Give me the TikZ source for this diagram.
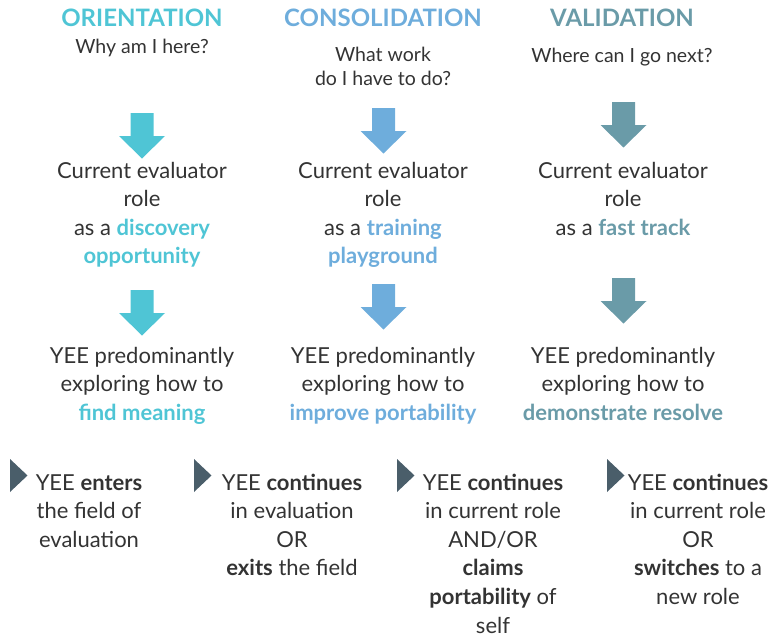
\documentclass[tikz,border=0pt]{standalone}
\usepackage{fontspec}
\setmainfont{Lato}
\definecolor{orient}{HTML}{4FC5D5}
\definecolor{consol}{HTML}{6EADDC}
\definecolor{valid}{HTML}{6A9BA8}
\definecolor{tri}{HTML}{4A5E6A}
\definecolor{txt}{HTML}{333333}
\newcommand\blockarrow[3]{%
  \fill[#3] ({#1-11.5},#2) -- ({#1+11.5},#2) -- ({#1+11.5},{#2+23}) -- ({#1+23},{#2+23})
    -- (#1,{#2+45.5}) -- ({#1-23},{#2+23}) -- ({#1-11.5},{#2+23}) -- cycle;}
\newcommand\marker[1]{%
  \fill[tri] (#1,459) -- ({#1+17.5},475.5) -- (#1,492) -- cycle;}
\begin{document}
\begin{tikzpicture}[x=1pt,y=-1pt,
  every node/.style={inner sep=0pt, outer sep=0pt, text=txt},
  headtext/.style={anchor=base, font=\bfseries\fontsize{24}{28}\selectfont},
  subtext/.style={anchor=base, align=center, font=\fontsize{19.5}{24}\selectfont},
  bodytext/.style={anchor=base, align=center, font=\fontsize{22}{28.6}\selectfont},
]
\useasboundingbox (0,0) rectangle (771,637);
% headers (anchor base = baseline of last line)
\node[headtext, text=orient] (h1) at (142,27) {ORIENTATION};
\node[headtext, text=consol] (h2) at (383,27) {CONSOLIDATION};
\node[headtext, text=valid] (h3) at (622,27) {VALIDATION};
\node[subtext] (s1) at (142,53) {Why am I here?};
\node[subtext] (s2) at (383,85) {What work\\do I have to do?};
\node[subtext] (s3) at (622,62) {Where can I go next?};
% arrows row 1
\blockarrow{142}{113}{orient}
\blockarrow{383.5}{108}{consol}
\blockarrow{623.5}{102}{valid}
% role blocks
\node[bodytext] (r1) at (142,263.8) {Current evaluator\\role\\as a \textcolor{orient}{\bfseries discovery}\\\textcolor{orient}{\bfseries opportunity}};
\node[bodytext] (r2) at (383,263.8) {Current evaluator\\role\\as a \textcolor{consol}{\bfseries training}\\\textcolor{consol}{\bfseries playground}};
\node[bodytext] (r3) at (623,235.2) {Current evaluator\\role\\as a \textcolor{valid}{\bfseries fast track}};
% arrows row 2
\blockarrow{142}{290}{orient}
\blockarrow{383.5}{284}{consol}
\blockarrow{623.5}{278}{valid}
% explore blocks
\node[bodytext] (e1) at (142,420.2) {YEE predominantly\\exploring how to\\\textcolor{orient}{\bfseries find meaning}};
\node[bodytext] (e2) at (383,420.2) {YEE predominantly\\exploring how to\\\textcolor{consol}{\bfseries improve portability}};
\node[bodytext] (e3) at (623,420.2) {YEE predominantly\\exploring how to\\\textcolor{valid}{\bfseries demonstrate resolve}};
% bottom outcomes
\marker{10}
\marker{194}
\marker{397}
\marker{607}
\node[bodytext] (o1) at (89,547.2) {YEE \textbf{enters}\\the field of\\evaluation};
\node[bodytext] (o2) at (292,575.8) {YEE \textbf{continues}\\in evaluation\\OR\\\textbf{exits} the field};
\node[bodytext] (o3) at (493,633) {YEE \textbf{continues}\\in current role\\AND/OR\\\textbf{claims}\\\textbf{portability} of\\self};
\node[bodytext] (o4) at (698,604.4) {YEE \textbf{continues}\\in current role\\OR\\\textbf{switches} to a\\new role};
\end{tikzpicture}
\end{document}
